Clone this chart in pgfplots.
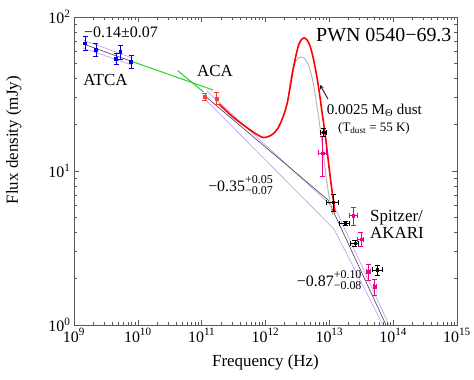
\documentclass[border=0pt]{standalone}
\usepackage{fontspec}
\setmainfont{Liberation Serif}
\usepackage{pgfplots}
\pgfplotsset{compat=1.18}

\definecolor{atcablue}{RGB}{0,0,230}
\definecolor{acared}{RGB}{240,60,60}
\definecolor{fitpurple}{RGB}{190,150,250}
\definecolor{fitgreen}{RGB}{40,210,40}
\definecolor{dustgray}{RGB}{185,185,185}
\definecolor{framegray}{RGB}{90,90,90}

% value with asymmetric errors
\newcommand\asym[3]{#1\makebox[0pt][l]{\raisebox{0.54em}{\fontsize{12}{12}\selectfont #2}}\raisebox{-0.2em}{\fontsize{12}{12}\selectfont #3}}

\begin{document}
\begin{tikzpicture}
\begin{axis}[
  scale only axis, width=383bp, height=308bp,
  xmode=log, ymode=log,
  xmin=1e9, xmax=1e15, ymin=1, ymax=100,
  xtick={1e9,1e10,1e11,1e12,1e13,1e14,1e15},
  xticklabels={10\textsuperscript{9},10\textsuperscript{10},10\textsuperscript{11},10\textsuperscript{12},10\textsuperscript{13},10\textsuperscript{14},10\textsuperscript{15}},
  minor xtick={2e9,3e9,4e9,5e9,6e9,7e9,8e9,9e9,
    2e10,3e10,4e10,5e10,6e10,7e10,8e10,9e10,
    2e11,3e11,4e11,5e11,6e11,7e11,8e11,9e11,
    2e12,3e12,4e12,5e12,6e12,7e12,8e12,9e12,
    2e13,3e13,4e13,5e13,6e13,7e13,8e13,9e13,
    2e14,3e14,4e14,5e14,6e14,7e14,8e14,9e14},
  ytick={1,10,100},
  yticklabels={10\textsuperscript{0},10\textsuperscript{1},10\textsuperscript{2}},
  minor ytick={2,3,4,5,6,7,8,9,20,30,40,50,60,70,80,90},
  tick align=inside,
  major tick length=5bp, minor tick length=3bp,
  axis line style={framegray, line width=0.8bp},
  every tick/.style={framegray, line width=0.6bp},
  tick label style={font=\fontsize{16}{16}\selectfont},
  xlabel={Frequency (Hz)},
  ylabel={Flux density (mJy)},
  label style={font=\fontsize{17}{20}\selectfont},
  xlabel style={at={(axis description cs:0.5,-0.12)}, anchor=center},
  ylabel style={at={(axis description cs:-0.157,0.60)}, anchor=center},
  clip=true,
]

% ATCA fit with bounds
\addplot[fitpurple, line width=0.6bp] coordinates {(1.383e9,70.9) (8.11e9,54.2)};
\addplot[fitpurple, line width=0.6bp] coordinates {(1.383e9,62.9) (8.11e9,48.7)};
\addplot[black!75, line width=0.6bp] coordinates {(1.383e9,66.9) (8.11e9,51.4)};

% ACA / IR broken power law with bounds
\addplot[fitpurple, line width=0.6bp] coordinates {(1.213e11,33.0) (1.274e13,5.58) (8.61e13,1.0)};
\addplot[fitpurple, line width=0.6bp] coordinates {(1.127e11,29.3) (1.183e13,4.20) (6.93e13,1.0)};
\addplot[black!75, line width=0.6bp] coordinates {(1.127e11,30.7) (9.53e12,6.49) (7.73e13,1.0)};

% extrapolations
\addplot[fitgreen, line width=1bp] coordinates {(8.11e9,51.4) (1.507e11,33.6)};
\addplot[fitgreen, line width=1bp] coordinates {(4.22e10,44.8) (1.062e11,32.7)};

% dust only
\addplot[dustgray, line width=1bp, smooth] coordinates {
  (2.25e12,28.9) (2.42e12,36.7) (2.60e12,44.0) (2.90e12,50.2) (3.23e12,53.8)
  (3.60e12,55.0) (4.02e12,54.2) (4.47e12,51.0) (4.98e12,45.3) (5.55e12,37.8)
  (6.18e12,28.9) (6.89e12,21.4) (7.67e12,15.2) (8.55e12,10.6) (9.53e12,7.54)
  (1.062e13,5.83) (1.143e13,5.18)};

% synchrotron + dust
\addplot[red, line width=1.6bp, smooth] coordinates {
  (1.87e11,27.2) (3.10e11,22.4) (5.71e11,18.5) (7.64e11,17.1) (9.15e11,16.5)
  (1.094e12,16.7) (1.312e12,17.4) (1.571e12,19.0) (1.880e12,22.4) (2.172e12,27.2)
  (2.42e12,34.6) (2.70e12,45.3) (3.01e12,56.6) (3.35e12,66.9) (3.73e12,72.0)
  (4.02e12,73.1) (4.47e12,71.0) (4.98e12,64.9) (5.55e12,54.9) (6.18e12,44.0)
  (6.89e12,33.6) (7.67e12,24.2) (8.55e12,17.7) (9.53e12,12.1) (1.062e13,8.36)
  (1.183e13,6.01) (1.227e13,5.42)};

% ATCA
\addplot[atcablue, only marks, mark=square*, mark size=1.4bp,
  error bars/.cd, y dir=both, y explicit,
  error bar style={line width=0.7bp},
  error mark options={rotate=90, mark size=2.5bp, line width=0.7bp}]
  coordinates {
  (1.487e9,67.5) +- (0,7)
  (2.21e9,61.6) +- (0,6)
  (4.55e9,53.9) +- (0,4.4)
  (5.31e9,59.6) +- (0,6.3)
  (7.82e9,51.3) +- (0,5)};

% ACA
\addplot[acared, only marks, mark=square*, mark size=1.4bp,
  error bars/.cd, y dir=both, y explicit,
  error bar style={line width=0.7bp},
  error mark options={rotate=90, mark size=2.5bp, line width=0.7bp}]
  coordinates {
  (1.127e11,30.4) +- (0,1.5)
  (1.72e11,29.6) +- (0,2.7)};

% Spitzer / AKARI
\addplot[magenta, only marks, mark=square*, mark size=1.2bp,
  error bars/.cd, y dir=both, y explicit, x dir=both, x explicit,
  error bar style={line width=0.7bp},
  error mark options={rotate=90, mark size=2.5bp, line width=0.7bp}]
  coordinates {
  (7.87e12,13.1) +- (1.1e12,3.8)
  (2.38e13,5.13) +- (3.5e12,0.7)
  (3.13e13,3.60) +- (3.4e12,0.37)
  (4.08e13,2.22) +- (3e12,0.27)
  (5.14e13,1.77) +- (2.5e12,0.22)};

\addplot[black, only marks, mark=square*, mark size=1.2bp,
  error bars/.cd, y dir=both, y explicit, x dir=both, x explicit,
  error bar style={line width=0.7bp},
  error mark options={rotate=90, mark size=2.5bp, line width=0.7bp}]
  coordinates {
  (8.11e12,17.9) +- (0.9e12,1.1)
  (1.143e13,6.25) +- (2.4e12,0.8)
  (1.76e13,4.59) +- (3.1e12,0.14)
  (2.52e13,3.39) +- (3.6e12,0.15)
  (5.65e13,2.28) +- (1.0e13,0.17)};

% annotations
\node[font=\fontsize{16}{19}\selectfont] at (rel axis cs:0.1227,0.951) {−0.14±0.07};
\node[font=\fontsize{17}{20}\selectfont] at (rel axis cs:0.0822,0.7955) {ATCA};
\node[font=\fontsize{17}{20}\selectfont] at (rel axis cs:0.368,0.8247) {ACA};
\node[anchor=west, inner sep=0pt, font=\fontsize{20}{22}\selectfont] at (rel axis cs:0.6319,0.9416) {PWN 0540−69.3};
\node[anchor=west, inner sep=0pt, font=\fontsize{15}{17}\selectfont] at (rel axis cs:0.6598,0.698) {0.0025 M\textsubscript{Θ} dust};
\node[anchor=west, inner sep=0pt, font=\fontsize{13}{15}\selectfont] at (rel axis cs:0.6893,0.6396) {(T\textsubscript{dust} = 55 K)};
\draw[-stealth, black, line width=0.8bp] (rel axis cs:0.6632,0.7338) -- (rel axis cs:0.6423,0.7792);
\node[anchor=west, inner sep=0pt, font=\fontsize{16}{18}\selectfont] at (rel axis cs:0.35,0.4545) {\asym{−0.35}{+0.05}{−0.07}};
\node[anchor=west, inner sep=0pt, font=\fontsize{17}{20}\selectfont] at (rel axis cs:0.7728,0.347) {Spitzer/};
\node[anchor=west, inner sep=0pt, font=\fontsize{17}{20}\selectfont] at (rel axis cs:0.7728,0.2977) {AKARI};
\node[anchor=west, inner sep=0pt, font=\fontsize{16}{18}\selectfont] at (rel axis cs:0.5815,0.146) {\asym{−0.87}{+0.10}{−0.08}};

\end{axis}
\pgfresetboundingbox
\path[use as bounding box] (-74bp,-55bp) rectangle (400bp,325bp);
\end{tikzpicture}
\end{document}
